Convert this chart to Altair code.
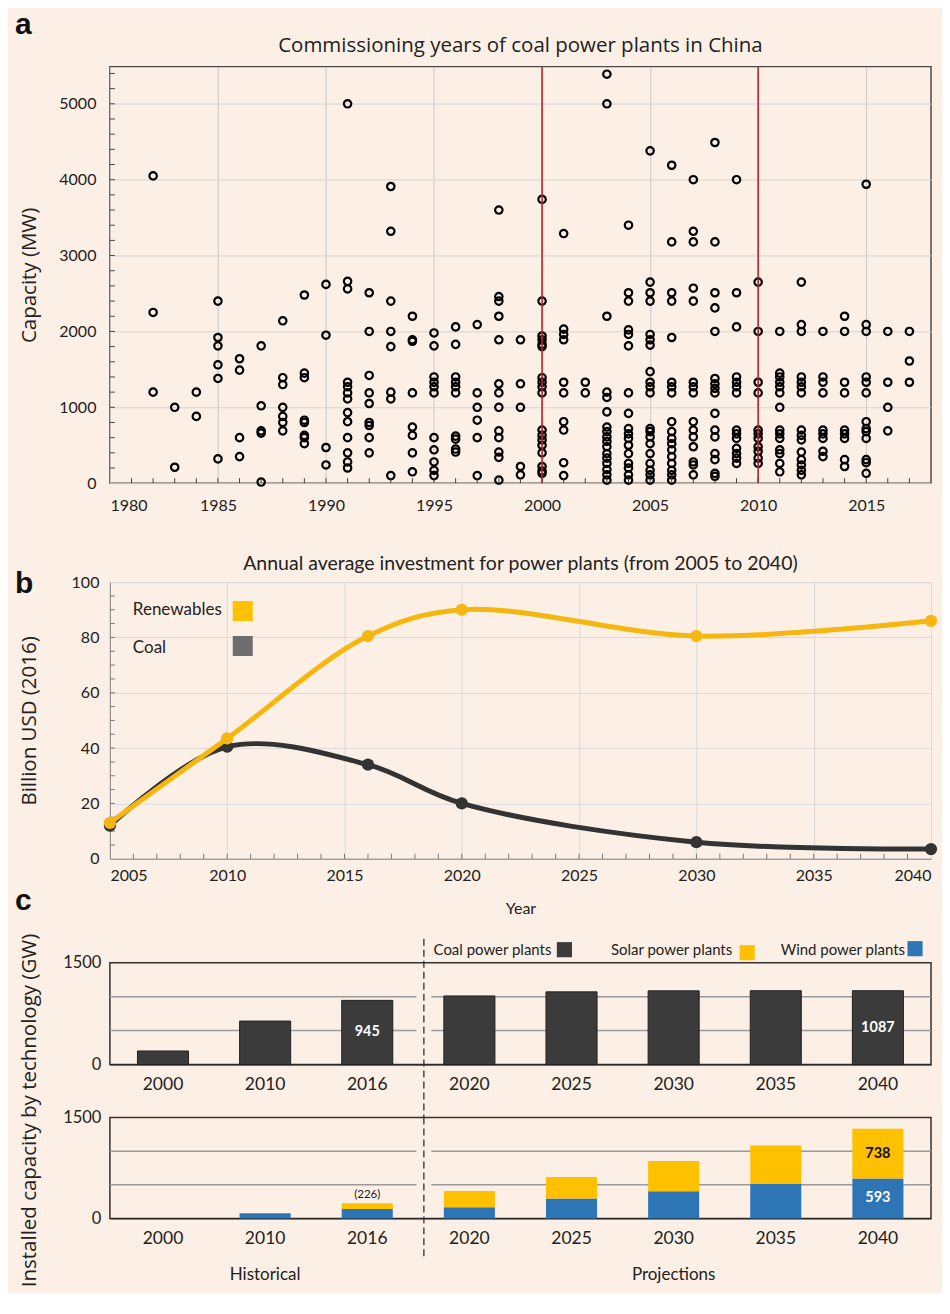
import altair as alt
import pandas as pd

BG = "#FCEFE5"
SANS = "Lato"
WIDE = "Open Sans"
W = 822

# ---------------- panel a : commissioning years (capacity in MW) ----------------
cap_1982 = [4050, 2250, 1200]
cap_1983 = [1000, 210]
cap_1984 = [1200, 880]
cap_1985 = [2400, 1920, 1810, 1560, 1380, 320]
cap_1986 = [1640, 1490, 600, 350]
cap_1987 = [1810, 1020, 690, 660, 15]
cap_1988 = [2140, 1390, 1300, 1000, 880, 800, 690]
cap_1989 = [2480, 1450, 1390, 830, 800, 630, 600, 520]
cap_1990 = [2620, 1950, 470, 240]
cap_1991 = [5000, 2660, 2560, 1330, 1270, 1190, 1110, 930, 810, 600, 400, 280, 200]
cap_1992 = [2510, 2000, 1420, 1190, 1050, 800, 760, 600, 400]
cap_1993 = [3910, 3320, 2400, 2000, 1800, 1200, 1110, 100]
cap_1994 = [2200, 1890, 1870, 1190, 740, 630, 400, 150]
cap_1995 = [1980, 1810, 1400, 1330, 1270, 1190, 600, 440, 280, 170, 100]
cap_1996 = [2060, 1830, 1400, 1330, 1270, 1190, 620, 580, 450, 410]
cap_1997 = [2090, 1190, 1000, 830, 600, 100]
cap_1998 = [3600, 2460, 2400, 2200, 1890, 1310, 1190, 1000, 690, 600, 410, 340, 40]
cap_1999 = [1890, 1310, 1000, 220, 110]
cap_2000 = [3740, 2400, 1940, 1890, 1830, 1800, 1390, 1330, 1270, 1190, 700, 630, 570,
            500, 400, 220, 160, 130]
cap_2001 = [3290, 2030, 1960, 1890, 1330, 1190, 810, 700, 270, 100]
cap_2002 = [1330, 1190]
cap_2003 = [5390, 5000, 2200, 1200, 1130, 940, 740, 680, 610, 550, 480, 390, 330, 260,
            180, 110, 40]
cap_2004 = [3400, 2510, 2400, 2020, 1960, 1810, 1190, 920, 720, 650, 590, 500, 390, 260,
            200, 110, 40]
cap_2005 = [4380, 2650, 2510, 2400, 1960, 1890, 1820, 1470, 1330, 1270, 1190, 720, 680,
            610, 520, 390, 260, 170, 110, 40]
cap_2006 = [4190, 3180, 2510, 2400, 1920, 1330, 1270, 1190, 810, 680, 590, 520, 440, 350,
            260, 170, 110, 40]
cap_2007 = [4000, 3320, 3180, 2570, 2400, 1330, 1270, 1190, 810, 700, 610, 480, 280, 240, 110]
cap_2008 = [4490, 3180, 2510, 2310, 2000, 1380, 1310, 1250, 1190, 920, 700, 610, 390, 310,
            130, 90]
cap_2009 = [4000, 2510, 2060, 1400, 1330, 1270, 1190, 700, 650, 590, 460, 390, 330, 260]
cap_2010 = [2650, 2000, 1330, 1190, 700, 650, 590, 480, 420, 330, 260]
cap_2011 = [2000, 1450, 1400, 1330, 1270, 1190, 1000, 700, 650, 590, 440, 390, 260, 150]
cap_2012 = [2650, 2090, 2000, 1400, 1330, 1270, 1190, 700, 630, 570, 410, 310, 240, 170, 110]
cap_2013 = [2000, 1400, 1330, 1190, 700, 650, 590, 420, 350]
cap_2014 = [2200, 2000, 1330, 1190, 700, 650, 590, 310, 220]
cap_2015 = [3940, 2090, 2000, 1400, 1330, 1190, 810, 720, 680, 590, 310, 270, 130]
cap_2016 = [2000, 1330, 1000, 690]
cap_2017 = [2000, 1610, 1330]

commission_years = list(range(1982, 2018))
capacity_lists = [cap_1982, cap_1983, cap_1984, cap_1985, cap_1986, cap_1987, cap_1988,
                  cap_1989, cap_1990, cap_1991, cap_1992, cap_1993, cap_1994, cap_1995,
                  cap_1996, cap_1997, cap_1998, cap_1999, cap_2000, cap_2001, cap_2002,
                  cap_2003, cap_2004, cap_2005, cap_2006, cap_2007, cap_2008, cap_2009,
                  cap_2010, cap_2011, cap_2012, cap_2013, cap_2014, cap_2015, cap_2016,
                  cap_2017]
red_years = [2000, 2010]

# ---------------- panel b : annual investment (billion USD 2016) ----------------
inv_years = [2005, 2010, 2016, 2020, 2030, 2040]
renew_inv = [13, 43.5, 80.5, 90, 80.5, 86]
coal_inv = [12, 40.5, 34, 20, 6, 3.5]

# ---------------- panel c : installed capacity (GW) ----------------
cap_years = ["2000", "2010", "2016", "2020", "2025", "2030", "2035", "2040"]
coal_gw = [200, 640, 945, 1010, 1070, 1085, 1087, 1087]
wind_gw = [0, 75, 140, 165, 295, 404, 513, 593]
solar_gw = [0, 3, 86, 244, 321, 450, 569, 738]
grid_gw = [500, 1000]

COAL_BAR = "#3b3b3b"
SOLAR = "#FFC000"
WIND = "#2E75B6"
GOLD_LINE = "#F5B70F"
COAL_LINE = "#333333"
YTITLE = 20.5


def one(**kw):
    return pd.DataFrame({k: [v] for k, v in kw.items()})


def letter(ch, x, y):
    return alt.Chart(one(t=ch)).mark_text(
        font="Liberation Sans", fontWeight="bold", fontSize=30, align="left",
        baseline="middle", color="#111"
    ).encode(x=alt.value(x), y=alt.value(y), text="t:N")


def heading(txt, font, size, y):
    return alt.Chart(one(t=txt)).mark_text(
        font=font, fontSize=size, align="center", baseline="middle", color="#222"
    ).encode(x=alt.value(W / 2), y=alt.value(y), text="t:N")


def spacer(h):
    return alt.Chart(one(t=" ")).mark_text(opacity=0).encode(
        x=alt.value(0), y=alt.value(0), text="t:N"
    ).properties(width=W, height=h, view=alt.ViewBackground(strokeWidth=0, stroke="transparent"))


# ---------------- build panel a ----------------
HA = 417
rows = []
for yr, vals in zip(commission_years, capacity_lists):
    for v in vals:
        rows.append({"year": yr, "mw": v})
scatter_df = pd.DataFrame(rows)

xA = alt.X("year:Q", title=None, scale=alt.Scale(domain=[1980, 2018], nice=False, zero=False),
           axis=alt.Axis(values=list(range(1980, 2016, 5)), format="d", ticks=False,
                         domain=False, grid=True, gridColor="#c9c9c9", labelPadding=14,
                         labelFontSize=16, labelColor="#222"))
yA = alt.Y("mw:Q", title="Capacity (MW)", scale=alt.Scale(domain=[0, 5490], nice=False),
           axis=alt.Axis(values=list(range(0, 5001, 1000)), format="d", ticks=False,
                         domain=False, grid=True, gridColor="#d4d4d4", labelPadding=14,
                         labelFontSize=16, labelColor="#222", titleX=-80, titleY=HA / 2,
                         titleBaseline="middle", titleAngle=270, titleFontSize=YTITLE,
                         titleFont=WIDE, titleFontWeight="normal", titleColor="#222"))

pointsA = alt.Chart(scatter_df).mark_point(
    filled=False, color="black", strokeWidth=2.2, size=55, opacity=1
).encode(x=xA, y=yA)
redA = alt.Chart(pd.DataFrame({"year": red_years})).mark_rule(
    color="#B3262B", strokeWidth=1.6
).encode(x=xA)
xticksA = alt.Chart(pd.DataFrame({"year": list(range(1981, 2018))})).mark_rule(
    color="#444", strokeWidth=1
).encode(x=xA, y=alt.value(HA), y2=alt.value(HA - 5))
yticksA = alt.Chart(pd.DataFrame({"mw": list(range(200, 5490, 200))})).mark_rule(
    color="#444", strokeWidth=1
).encode(y=yA, x=alt.value(0), x2=alt.value(5))

panelA = alt.layer(
    pointsA, redA, xticksA, yticksA, letter("a", -95, -42),
    heading("Commissioning years of coal power plants in China", WIDE, 20.5, -21)
).properties(
    width=W, height=HA,
    view=alt.ViewBackground(stroke="#4a4a4a", strokeWidth=1.5),
)

# ---------------- build panel b ----------------
HB = 277
inv_coal_df = pd.DataFrame({"year": inv_years, "value": coal_inv})
inv_renew_df = pd.DataFrame({"year": inv_years, "value": renew_inv})

xB = alt.X("year:Q", title="Year", scale=alt.Scale(domain=[2005, 2040], nice=False, zero=False),
           axis=alt.Axis(values=list(range(2005, 2041, 5)), format="d", ticks=False,
                         domainColor="#8a8a8a", gridColor="#dadada", labelPadding=9,
                         labelFontSize=16, labelColor="#222", titlePadding=17,
                         titleFontSize=16, titleFontWeight="normal", titleColor="#222",
                         titleFont=SANS))
yB = alt.Y("value:Q", title="Billion USD (2016)", scale=alt.Scale(domain=[0, 100], nice=False),
           axis=alt.Axis(values=list(range(0, 101, 20)), ticks=False, domainColor="#8a8a8a",
                         gridColor="#dadada", labelPadding=11, labelFontSize=16,
                         labelColor="#222", titleX=-80, titleY=HB / 2, titleBaseline="middle",
                         titleAngle=270, titleFontSize=YTITLE, titleFont=WIDE,
                         titleFontWeight="normal", titleColor="#222"))

coal_line = alt.Chart(inv_coal_df).mark_line(
    interpolate="catmull-rom", strokeWidth=5, color=COAL_LINE, strokeCap="round"
).encode(x=xB, y=yB)
coal_pts = alt.Chart(inv_coal_df).mark_circle(size=150, opacity=1, color=COAL_LINE).encode(
    x=xB, y=yB)
renew_line = alt.Chart(inv_renew_df).mark_line(
    interpolate="catmull-rom", strokeWidth=5, color=GOLD_LINE, strokeCap="round"
).encode(x=xB, y=yB)
renew_pts = alt.Chart(inv_renew_df).mark_circle(size=150, opacity=1, color=GOLD_LINE).encode(
    x=xB, y=yB)
xticksB = alt.Chart(pd.DataFrame({"year": list(range(2006, 2040))})).mark_rule(
    color="#777").encode(x=xB, y=alt.value(HB), y2=alt.value(HB - 5))
yticksB = alt.Chart(pd.DataFrame({"value": list(range(5, 100, 5))})).mark_rule(
    color="#777").encode(y=yB, x=alt.value(0), x2=alt.value(5))

legend_text_b = dict(font=SANS, fontSize=17, align="left", baseline="middle", color="#222")
legB1 = alt.Chart(one(t="Renewables")).mark_text(**legend_text_b).encode(
    x=alt.value(23), y=alt.value(28), text="t:N")
legB2 = alt.Chart(one(t="Coal")).mark_text(**legend_text_b).encode(
    x=alt.value(23), y=alt.value(66), text="t:N")
sqB1 = alt.Chart(one(t="Renewables")).mark_square(size=400, color="#FFC000", opacity=1).encode(
    x=alt.value(133), y=alt.value(29))
sqB2 = alt.Chart(one(t="Coal")).mark_square(size=400, color="#6d6d6d", opacity=1).encode(
    x=alt.value(133), y=alt.value(64))

panelB = alt.layer(
    coal_line, xticksB, yticksB, coal_pts, renew_line, renew_pts,
    legB1, legB2, sqB1, sqB2, letter("b", -95, 2), letter("c", -95, HB + 42),
    heading("Annual average investment for power plants (from 2005 to 2040)", SANS, 19.5, -18)
).properties(
    width=W, height=HB,
    view=alt.ViewBackground(stroke="#c4c4c4", strokeWidth=1),
)

# ---------------- build panel c ----------------
HC1 = 102
HC2 = 101
xc_scale = alt.Scale(domain=cap_years, paddingInner=0.5, paddingOuter=0.27)
yc_scale = alt.Scale(domain=[0, 1500], nice=False)
xc_axis = alt.Axis(labelAngle=0, ticks=False, domainColor="#222", labelFontSize=17.5,
                   labelColor="#222", labelPadding=11, title=None)
yc_axis = alt.Axis(values=[0, 1500], format="d", ticks=False, domain=False, grid=False,
                   labelFontSize=16.5, labelColor="#222", labelPadding=9, title=None)
xc = alt.X("year:N", sort=cap_years, scale=xc_scale, axis=xc_axis)
xc_split = alt.X("year:N", sort=cap_years, scale=xc_scale, axis=xc_axis, bandPosition=0)
yc = alt.Y("gw:Q", scale=yc_scale, axis=yc_axis, title=None)


def grid_layer():
    return alt.Chart(pd.DataFrame({"gw": grid_gw})).mark_rule(
        color="#9a9a9a", strokeWidth=1.5
    ).encode(y=yc, x=alt.value(0), x2=alt.value(W))


def split_marks(h, top, bottom):
    gap = alt.Chart(one(year="2020")).mark_rule(
        color=BG, strokeWidth=15, xOffset=-20
    ).encode(x=xc_split, y=alt.value(2), y2=alt.value(h - 2))
    dash = alt.Chart(one(year="2020")).mark_rule(
        color="#333", strokeWidth=1.3, strokeDash=[7, 4], xOffset=-20
    ).encode(x=xc_split, y=alt.value(top), y2=alt.value(bottom))
    return [gap, dash]


coal_df = pd.DataFrame({"year": cap_years, "gw": coal_gw})
coal_bars = alt.Chart(coal_df).mark_bar(color=COAL_BAR, stroke="#222", strokeWidth=1).encode(
    x=xc, y=yc)
coal_lab_df = coal_df[coal_df["year"].isin(["2016", "2040"])]
coal_labels = alt.Chart(coal_lab_df).transform_calculate(mid="datum.gw / 2").mark_text(
    font=SANS, fontWeight="bold", fontSize=14.5, color="white", baseline="middle"
).encode(x=xc, y=alt.Y("mid:Q", scale=yc_scale, axis=yc_axis, title=None),
         text=alt.Text("gw:Q"))

leg_txt = dict(font=SANS, fontSize=15, align="right", baseline="middle", color="#222")
legC = [
    alt.Chart(one(t="Coal power plants")).mark_text(**leg_txt).encode(
        x=alt.value(442), y=alt.value(-13), text="t:N"),
    alt.Chart(one(t="Solar power plants")).mark_text(**leg_txt).encode(
        x=alt.value(623), y=alt.value(-13), text="t:N"),
    alt.Chart(one(t="Wind power plants")).mark_text(**leg_txt).encode(
        x=alt.value(796), y=alt.value(-13), text="t:N"),
    alt.Chart(one(t="c")).mark_square(size=230, color=COAL_BAR, opacity=1).encode(
        x=alt.value(455), y=alt.value(-13)),
    alt.Chart(one(t="s")).mark_square(size=230, color=SOLAR, opacity=1).encode(
        x=alt.value(638), y=alt.value(-10)),
    alt.Chart(one(t="w")).mark_square(size=230, color=WIND, opacity=1).encode(
        x=alt.value(806), y=alt.value(-14)),
]
ytitleC = alt.Chart(one(t="Installed capacity by technology (GW)")).mark_text(
    font=WIDE, fontSize=YTITLE, angle=270, align="center", baseline="middle", color="#222"
).encode(x=alt.value(-80), y=alt.value(HC1 + 46), text="t:N")

panelC1 = alt.layer(
    grid_layer(), *split_marks(HC1, -24, HC1 + 53), coal_bars, coal_labels, ytitleC, *legC
).properties(width=W, height=HC1, view=alt.ViewBackground(stroke="#333", strokeWidth=1.5))

ren_rows = []
for yr, w, s in zip(cap_years, wind_gw, solar_gw):
    ren_rows.append({"year": yr, "tech": "Wind power plants", "gw": w, "ord": 0})
    ren_rows.append({"year": yr, "tech": "Solar power plants", "gw": s, "ord": 1})
ren_df = pd.DataFrame(ren_rows)

ren_bars = alt.Chart(ren_df).mark_bar().encode(
    x=xc,
    y=alt.Y("gw:Q", stack="zero", scale=yc_scale, axis=yc_axis, title=None),
    color=alt.Color("tech:N", scale=alt.Scale(domain=["Wind power plants", "Solar power plants"],
                                              range=[WIND, SOLAR]), legend=None),
    order=alt.Order("ord:Q"),
)
tot_df = pd.DataFrame({"year": cap_years, "wind": wind_gw, "solar": solar_gw})
total_2016 = alt.Chart(tot_df[tot_df["year"] == "2016"]).transform_calculate(
    total="datum.wind + datum.solar", lab="'(' + (datum.wind + datum.solar) + ')'"
).mark_text(font=SANS, fontSize=11.5, color="#222", baseline="bottom", dy=-3).encode(
    x=xc, y=alt.Y("total:Q", scale=yc_scale, axis=yc_axis, title=None), text="lab:N")
last_df = tot_df[tot_df["year"] == "2040"]
wind_lab = alt.Chart(last_df).transform_calculate(mid="datum.wind / 2").mark_text(
    font=SANS, fontWeight="bold", fontSize=14.5, color="white", baseline="middle").encode(
    x=xc, y=alt.Y("mid:Q", scale=yc_scale, axis=yc_axis, title=None), text="wind:Q")
solar_lab = alt.Chart(last_df).transform_calculate(mid="datum.wind + datum.solar / 2").mark_text(
    font=SANS, fontWeight="bold", fontSize=14.5, color="#111", baseline="middle").encode(
    x=xc, y=alt.Y("mid:Q", scale=yc_scale, axis=yc_axis, title=None), text="solar:Q")
period_df = pd.DataFrame({"year": ["2010", "2030"], "label": ["Historical", "Projections"]})
period_lab = alt.Chart(period_df).mark_text(
    font=SANS, fontSize=17, color="#222", baseline="middle").encode(
    x=xc, y=alt.value(HC2 + 57), text="label:N")

panelC2 = alt.layer(
    grid_layer(), *split_marks(HC2, 0, HC2 + 38), ren_bars, total_2016, wind_lab, solar_lab,
    period_lab
).properties(width=W, height=HC2, view=alt.ViewBackground(stroke="#333", strokeWidth=1.5))

chart = alt.vconcat(
    panelA, spacer(59), panelB, spacer(64), panelC1, spacer(13), panelC2,
    spacing=20, bounds="flush"
).properties(
    background=BG,
    padding={"left": 6, "top": 0, "right": 0, "bottom": 4},
).configure(font=SANS).configure_view(strokeWidth=0)

chart.save("out.html", embed_options={"renderer": "svg", "actions": False})
